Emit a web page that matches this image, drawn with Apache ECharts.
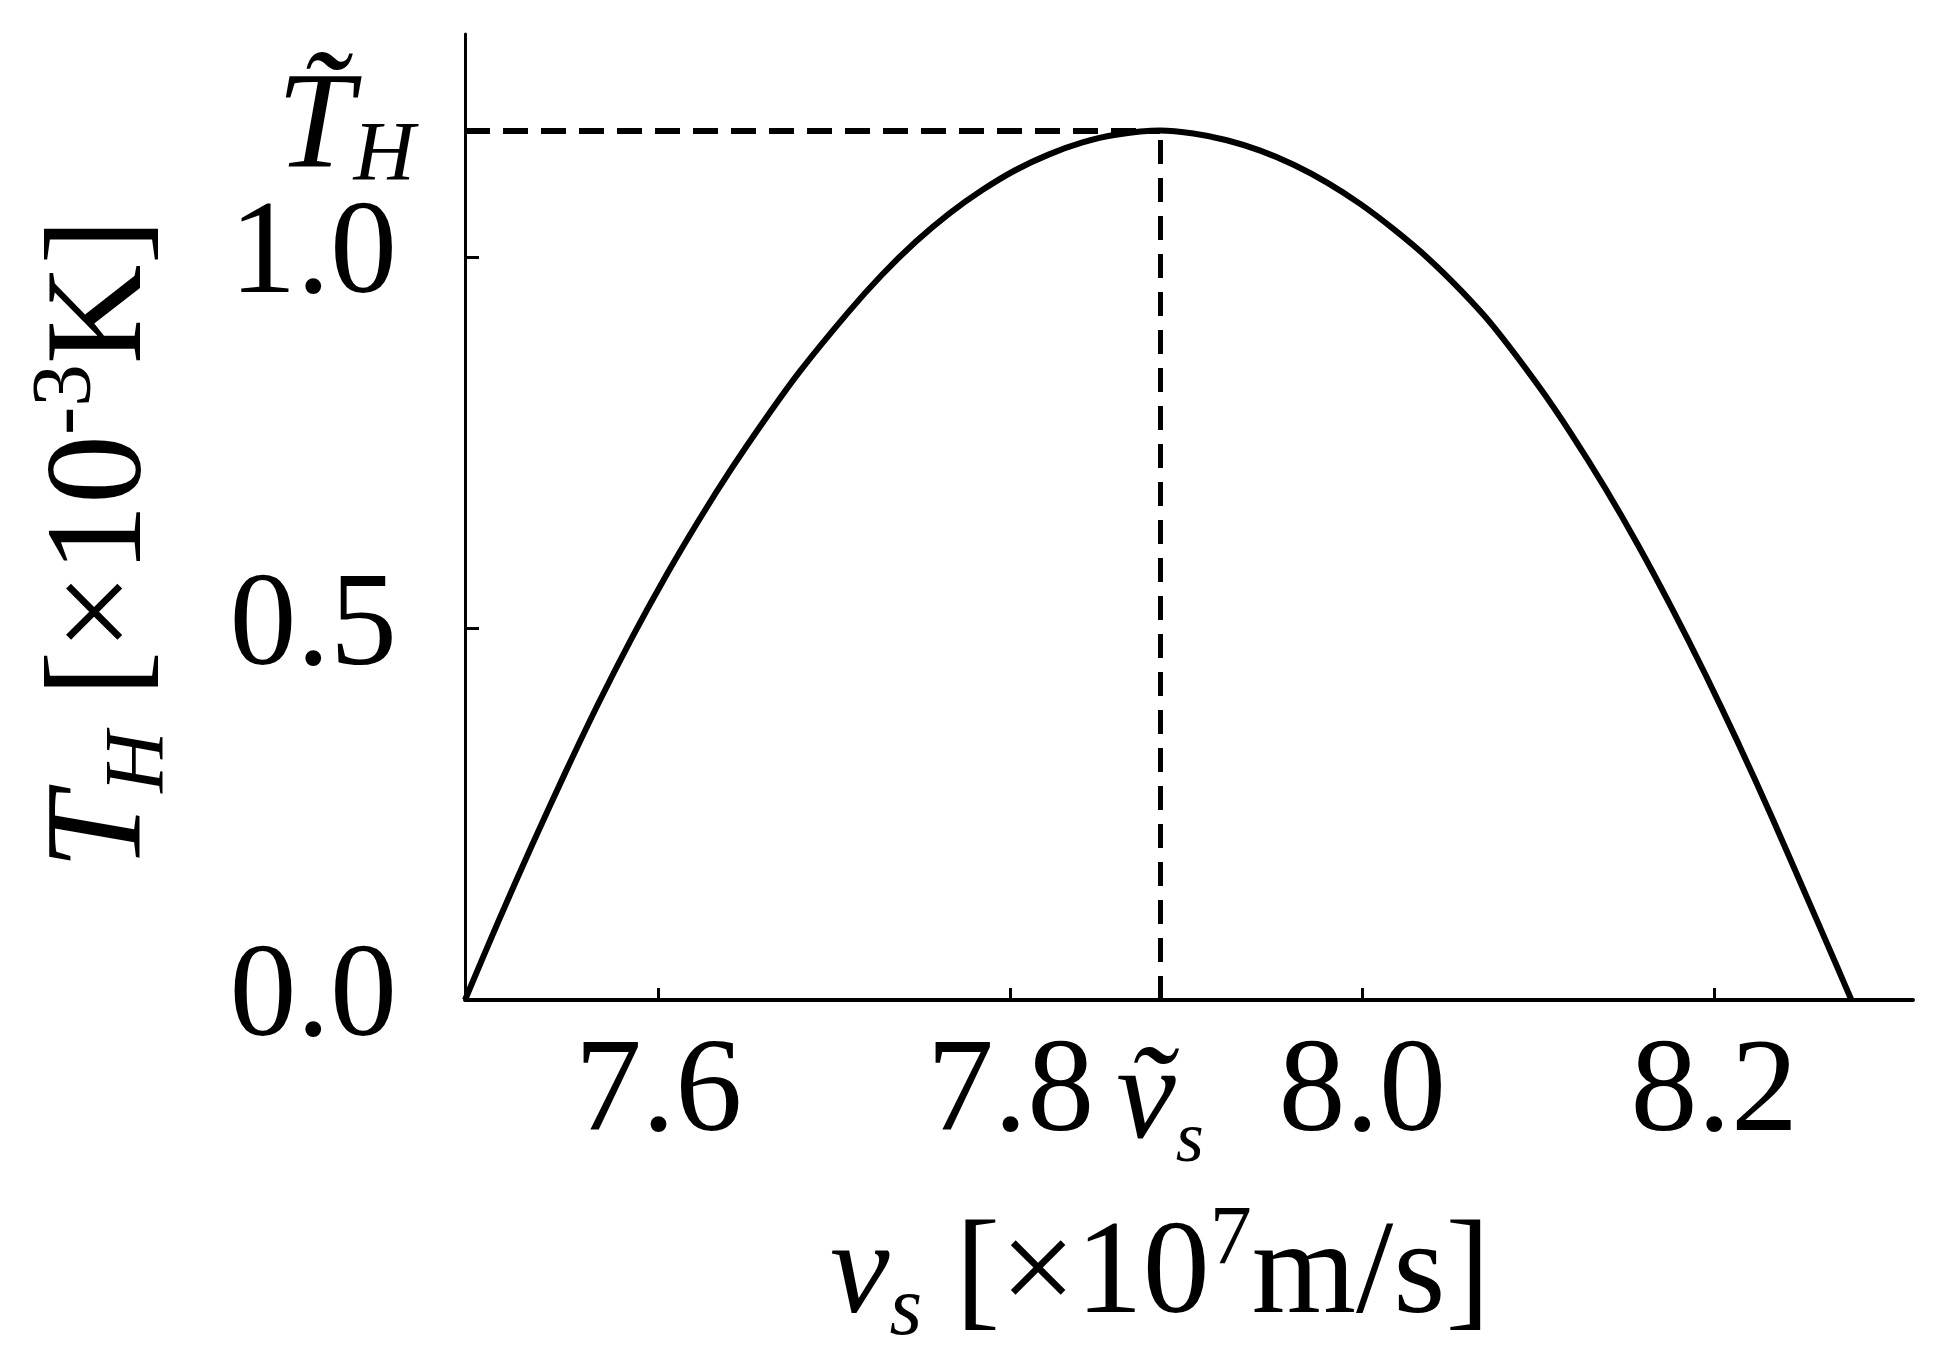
<!DOCTYPE html>
<html>
<head>
<meta charset="utf-8">
<script src="https://cdn.jsdelivr.net/npm/echarts@6/dist/echarts.min.js"></script>
<style>
  html, body { margin: 0; padding: 0; background: #fff; }
  #main { width: 1944px; height: 1372px; }
</style>
</head>
<body>
<div id="main"></div>
<script>
// curve: v_s [x10^7 m/s] vs T_H [x10^-3 K]
var vs = [7.490, 7.509, 7.528, 7.547, 7.566, 7.585, 7.604, 7.623, 7.642, 7.661,
          7.680, 7.708, 7.727, 7.746, 7.765, 7.784, 7.803, 7.822, 7.841, 7.859,
          7.885, 7.904, 7.923, 7.942, 7.961, 7.980, 7.999, 8.018, 8.037, 8.056,
          8.074, 8.100, 8.119, 8.138, 8.157, 8.176, 8.195, 8.214, 8.233, 8.252,
          8.270, 8.278];
var th = [0, 0.106, 0.208, 0.306, 0.400, 0.488, 0.570, 0.646, 0.717, 0.783,
          0.845, 0.926, 0.976, 1.020, 1.058, 1.090, 1.117, 1.138, 1.154, 1.164,
          1.170, 1.166, 1.157, 1.143, 1.124, 1.100, 1.071, 1.037, 0.999, 0.955,
          0.908, 0.827, 0.761, 0.689, 0.611, 0.527, 0.438, 0.344, 0.245, 0.142,
          0.044, 0];

var xTicks = [7.6, 7.8, 8.0, 8.2];
var yTicks = [0, 0.5, 1.0];
var xRange = [7.49, 8.313];
var yRange = [0, 1.3];

// maximum point (dashed guides)
var peakX = 7.885;
var peakY = 1.170;

var serif = "'Liberation Serif', 'Times New Roman', serif";

var points = [];
for (var i = 0; i < vs.length; i++) {
  points.push([vs[i], th[i]]);
}

var chart = echarts.init(document.getElementById('main'));

// rich styles for axis names (italic symbol, subscript, superscript)
function nameRich(size, small) {
  return {
    i: { fontFamily: serif, fontStyle: 'italic', fontSize: size, color: '#000', lineHeight: size + 20 },
    sub: { fontFamily: serif, fontStyle: 'italic', fontSize: small, color: '#000', verticalAlign: 'bottom' },
    n: { fontFamily: serif, fontSize: size, color: '#000', lineHeight: size + 20 },
    sup: { fontFamily: serif, fontSize: small, color: '#000', verticalAlign: 'top' }
  };
}

var option = {
  animation: false,
  backgroundColor: '#fff',
  grid: { left: 465, right: 31, top: 34, bottom: 372 },
  xAxis: {
    type: 'value',
    min: xRange[0],
    max: xRange[1],
    splitLine: { show: false },
    axisLine: { onZero: false, lineStyle: { color: '#000', width: 4 } },
    axisTick: { inside: true, length: 12, lineStyle: { color: '#000', width: 3 }, customValues: xTicks },
    axisLabel: {
      customValues: xTicks,
      formatter: function (v) { return v.toFixed(1); },
      fontFamily: serif, fontSize: 134, color: '#000', margin: 28
    },
    name: '{i|v}{sub|s}{n| [×10}{sup|7}{n|m/s]}',
    nameLocation: 'middle',
    nameGap: 200,
    nameTextStyle: { rich: nameRich(134, 84), padding: [0, 58, 0, 0] }
  },
  yAxis: {
    type: 'value',
    min: yRange[0],
    max: yRange[1],
    splitLine: { show: false },
    axisLine: { onZero: false, lineStyle: { color: '#000', width: 3 } },
    axisTick: { inside: true, length: 14, lineStyle: { color: '#000', width: 3 }, customValues: yTicks },
    axisLabel: {
      customValues: yTicks,
      formatter: function (v) { return v.toFixed(1); },
      fontFamily: serif, fontSize: 134, color: '#000', margin: 68
    },
    name: '{i|T}{sub|H}{n| [×10}{sup|-3}{n|K]}',
    nameLocation: 'middle',
    nameGap: 282,
    nameTextStyle: { rich: nameRich(138, 85), padding: [0, 54, 0, 0] }
  },
  series: [{
    type: 'line',
    data: points,
    smooth: 0.25,
    symbol: 'none',
    lineStyle: { color: '#000', width: 6 },
    markLine: {
      silent: true,
      symbol: ['none', 'none'],
      lineStyle: { color: '#000', width: 6, type: [25, 13] },
      data: [
        [
          {
            coord: [xRange[0], peakY],
            label: {
              show: true, position: 'start', distance: 50,
              formatter: '{i|T\u0303}{sub|H}',
              rich: {
                i: { fontFamily: serif, fontStyle: 'italic', fontSize: 138, color: '#000', lineHeight: 140 },
                sub: { fontFamily: serif, fontStyle: 'italic', fontSize: 85, color: '#000', verticalAlign: 'bottom' }
              }
            }
          },
          { coord: [peakX, peakY] }
        ],
        [
          {
            coord: [peakX, 0],
            lineStyle: { width: 5, type: [24, 14] },
            label: {
              show: true, position: 'start', distance: 28,
              formatter: '{i|v\u0303}{sub|s}',
              rich: {
                i: { fontFamily: serif, fontStyle: 'italic', fontSize: 134, color: '#000', lineHeight: 150 },
                sub: { fontFamily: serif, fontStyle: 'italic', fontSize: 72, color: '#000', verticalAlign: 'bottom' }
              }
            }
          },
          { coord: [peakX, peakY] }
        ]
      ]
    }
  }]
};

chart.setOption(option);
</script>
</body>
</html>
